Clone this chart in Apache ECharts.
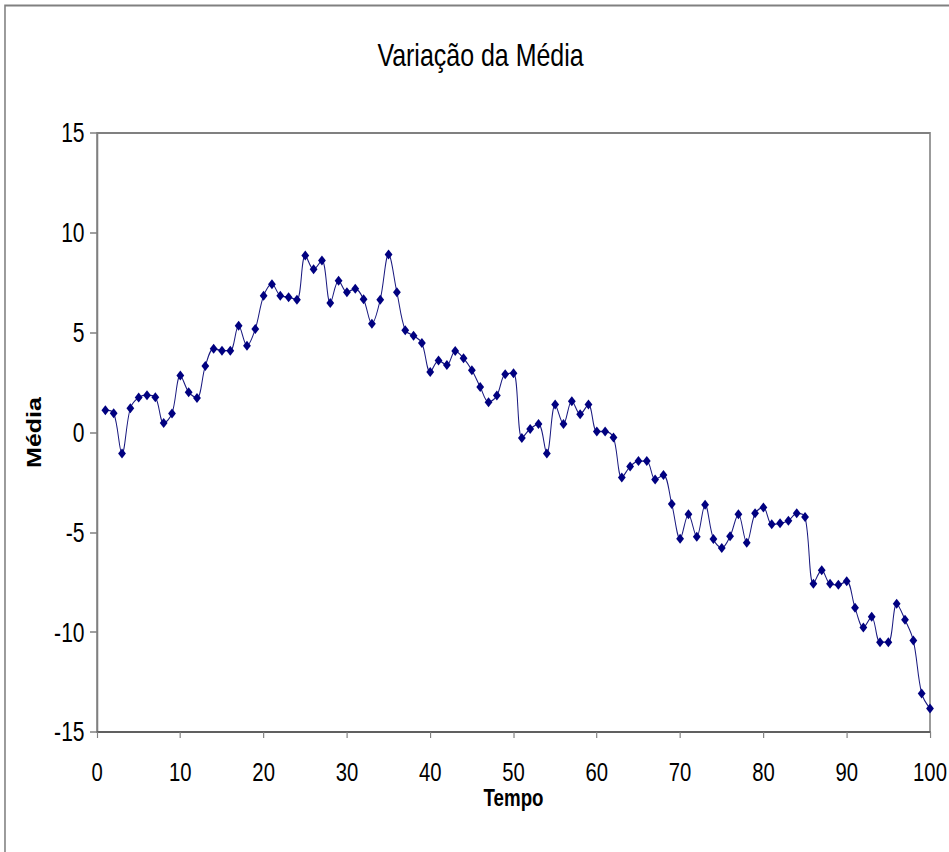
<!DOCTYPE html>
<html>
<head>
<meta charset="utf-8">
<script src="https://cdn.jsdelivr.net/npm/echarts@6/dist/echarts.min.js"></script>
<style>
  html, body { margin: 0; padding: 0; background: #ffffff; overflow: hidden; width: 949px; height: 852px; }
  /* The chart is laid out on a wider canvas and condensed horizontally,
     giving the narrow lettering and tall diamond markers of the figure. */
  #chart { width: 1217px; height: 852px; transform: scaleX(0.78); transform-origin: 0 0; }
</style>
</head>
<body>
<div id="chart"></div>
<script>
// Time steps and the running mean at each step
const tempo = [];
for (let t = 1; t <= 100; t++) tempo.push(t);

const media = [
  1.12, 0.97, -1.05, 1.22, 1.75, 1.87, 1.77, 0.47, 0.95, 2.85,
  2.02, 1.73, 3.33, 4.20, 4.10, 4.10, 5.35, 4.35, 5.18, 6.85,
  7.43, 6.85, 6.78, 6.65, 8.87, 8.17, 8.62, 6.48, 7.60, 7.03,
  7.20, 6.67, 5.45, 6.65, 8.92, 7.02, 5.12, 4.85, 4.48, 3.03,
  3.60, 3.38, 4.08, 3.72, 3.12, 2.28, 1.52, 1.85, 2.92, 2.97,
  -0.27, 0.18, 0.42, -1.05, 1.40, 0.43, 1.57, 0.92, 1.40, 0.05,
  0.05, -0.25, -2.25, -1.70, -1.43, -1.43, -2.35, -2.13, -3.58, -5.32,
  -4.10, -5.22, -3.62, -5.33, -5.78, -5.20, -4.10, -5.52, -4.05, -3.75,
  -4.60, -4.55, -4.42, -4.05, -4.23, -7.58, -6.90, -7.58, -7.63, -7.45,
  -8.78, -9.77, -9.23, -10.50, -10.50, -8.58, -9.38, -10.42, -13.07, -13.82
];

const xTicks = [0, 10, 20, 30, 40, 50, 60, 70, 80, 90, 100];
const yTicks = [-15, -10, -5, 0, 5, 10, 15];

const FONT = "'Liberation Sans', Arial, sans-serif";
const AXIS_GRAY = '#808080';

const chart = echarts.init(document.getElementById('chart'), null, { renderer: 'svg' });

chart.setOption({
  backgroundColor: '#ffffff',
  animation: false,
  graphic: [
    {
      type: 'rect',
      shape: { x: 6.4, y: 5.5, width: 1300, height: 900 },
      style: { fill: 'none', stroke: AXIS_GRAY, lineWidth: 2 },
      silent: true,
      z: -1
    },
    {
      type: 'text',
      x: 616, y: 55,
      style: {
        text: 'Variação da Média',
        align: 'center', verticalAlign: 'middle',
        font: "normal 32px 'Liberation Sans', Arial, sans-serif",
        fill: '#000000'
      },
      silent: true
    }
  ],
  grid: {
    left: 124.4, right: 22.1, top: 133, bottom: 120,
    show: true, borderColor: AXIS_GRAY, borderWidth: 2, backgroundColor: '#ffffff'
  },
  xAxis: {
    type: 'value',
    min: xTicks[0], max: xTicks[xTicks.length - 1], interval: 10,
    name: 'Tempo', nameLocation: 'middle', nameGap: 54, nameMoveOverlap: false,
    nameTextStyle: { fontFamily: FONT, fontSize: 24, fontWeight: 'bold', color: '#000000' },
    axisLine: { show: true, onZero: false, lineStyle: { color: '#606060', width: 2 } },
    axisTick: { show: true, inside: false, length: 6, lineStyle: { color: AXIS_GRAY, width: 1.5 } },
    axisLabel: { fontFamily: FONT, fontSize: 26, lineHeight: 26, color: '#000000', margin: 27 },
    splitLine: { show: false }
  },
  yAxis: {
    type: 'value',
    min: yTicks[0], max: yTicks[yTicks.length - 1], interval: 5,
    name: 'Média', nameLocation: 'middle', nameGap: 68, nameRotate: 90, nameMoveOverlap: false,
    nameTextStyle: { fontFamily: FONT, fontSize: 25, fontWeight: 'bold', color: '#000000' },
    axisLine: { show: true, onZero: false, lineStyle: { color: AXIS_GRAY, width: 2 } },
    axisTick: { show: true, inside: false, length: 9, lineStyle: { color: AXIS_GRAY, width: 1.5 } },
    axisLabel: { fontFamily: FONT, fontSize: 27, color: '#000000', margin: 16 },
    splitLine: { show: false }
  },
  series: [{
    type: 'line',
    data: tempo.map((t, i) => [t, media[i]]),
    smooth: 0.35,
    symbol: 'diamond',
    symbolSize: 10,
    showAllSymbol: true,
    lineStyle: { color: '#1a1a80', width: 1.3 },
    itemStyle: { color: '#000080' }
  }]
});
</script>
</body>
</html>
